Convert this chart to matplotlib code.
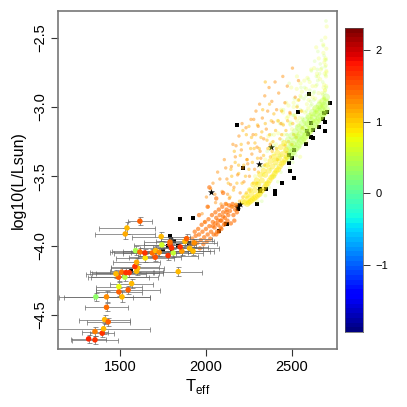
import matplotlib
matplotlib.use("Agg")
import matplotlib.pyplot as plt
import numpy as np

plt.rcParams['font.family'] = ['Liberation Sans', 'DejaVu Sans']
plt.rcParams['mathtext.fontset'] = 'custom'
plt.rcParams['mathtext.rm'] = 'Liberation Sans'

# objects with error bars
obj_teff = [1318,1355,1355,1397,1405,1411,1432,1422,1360,1422,1512,1494,1548,1494,1568,1529,1492,1477,1510,1535,1554,1597,1603,1839,1587,1597,1705,1647,1591,1616,1645,1688,1707,1728,1744,1780,1810,1791,1800,1878,1740,1791,1860,1541,1531,1616,1905,1932,1888,1925,1850]
obj_lum = [-4.673,-4.68,-4.62,-4.632,-4.60,-4.534,-4.55,-4.445,-4.37,-4.37,-4.37,-4.334,-4.32,-4.296,-4.274,-4.228,-4.228,-4.204,-4.192,-4.195,-4.195,-4.185,-4.163,-4.188,-4.151,-4.12,-4.084,-4.089,-4.036,-4.046,-4.053,-4.053,-4.036,-4.048,-3.995,-4.072,-4.053,-3.993,-4.017,-3.97,-3.935,-3.975,-4.04,-3.873,-3.916,-3.824,-4.02,-3.98,-3.95,-4.04,-4.01]
obj_err = [100,135,75,70,270,150,125,125,215,250,165,135,185,135,125,195,175,175,185,195,195,155,155,140,140,135,150,170,135,175,180,170,190,165,160,175,175,150,185,170,170,150,165,165,175,70,170,130,150,120,160]
obj_lerr = [0.03,0.03,0.03,0.03,0.04,0.03,0.03,0.03,0.03,0.04,0.04,0.03,0.03,0.03,0.03,0.03,0.03,0.03,0.03,0.03,0.03,0.03,0.03,0.03,0.03,0.03,0.03,0.03,0.03,0.03,0.03,0.03,0.03,0.03,0.03,0.03,0.03,0.03,0.03,0.03,0.03,0.03,0.03,0.04,0.04,0.03,0.03,0.03,0.03,0.03,0.03]
obj_z = [1.75,1.7,1.35,1.7,1.05,1.1,1.5,1.4,0.3,1.3,1.1,1.45,1.5,0.75,1.1,0.5,1.45,1.1,1.4,1.7,1.7,1.1,1.05,1.05,1.65,1.15,1.55,0.9,0.45,1.4,1.7,1.4,1.1,1.3,0.65,1.7,0.55,1.6,1.7,1.1,1.1,1.4,1.2,1.1,1.15,1.45,1.1,1.25,1.5,1.05,1.65]

# black objects
sq_teff = [2180,2599,2533,2719,2703,2684,2682,2692,2657,2692,2624,2589,2595,2612,2620,2612,2581,2510,2502,2481,2483,2486,2514,2440,2401,2403,2347,2314,2314,2297,2213,2188,1924,1849,2122,1791,1797,1752,1725,1835,1800,1566,2076,2118,1900,1780,1815]
sq_lum = [-3.133,-2.91,-3.034,-2.97,-3.04,-3.043,-3.087,-3.11,-3.142,-3.17,-3.166,-3.171,-3.198,-3.219,-3.222,-3.118,-3.27,-3.313,-3.369,-3.345,-3.402,-3.463,-3.511,-3.547,-3.605,-3.629,-3.595,-3.595,-3.605,-3.699,-3.443,-3.733,-3.8,-3.81,-3.845,-3.933,-3.952,-4.029,-4.048,-4.005,-4.034,-4.185,-3.897,-3.846,-3.98,-4.0,-3.97]
star_teff = [2027,2198,2188,2180,2310,2376,2314]
star_lum = [-3.617,-3.701,-3.716,-3.72,-3.414,-3.289,-3.6]

# pale cloud, upper right
pale_teff = [2702,2683,2641,2697,2612,2691,2572,2655,2698,2529,2666,2620,2693,2587,2549,2685,2630,2496,2678,2601,2467,2645,2544,2690,2510,2636,2583,2682,2700,2438,2626,2562,2673,2489,2590,2417,2642,2525,2687,2452,2606,2694,2656,2534,2701,2396,2597,2478,2648,2372,2695,2560,2411,2613,2505,2664,2688,2550,2345,2603,2439,2655,2577,2700,2540,2318,2595,2463,2647,2381,2696,2530,2286,2585,2356,2638,2420,2690,2520,2399,2576,2444,2629,2333,2684,2510,2375,2567,2291,2620,2402,2676,2699,2500,2347,2558,2425,2611,2312,2668,2692,2490,2363,2548,2448,2603,2272,2660,2686,2480,2321,2538,2392,2595,2248,2652,2680,2470,2299,2528,2408,2586,2615,2644,2674,2700]
pale_lum = [-2.42,-2.61,-2.57,-2.7,-2.73,-2.66,-2.81,-2.9,-2.78,-2.78,-2.99,-2.85,-2.88,-2.98,-2.92,-2.93,-3.01,-2.86,-3.0,-3.07,-2.97,-2.76,-3.08,-3.05,-3.0,-2.94,-2.87,-2.55,-2.95,-3.02,-3.1,-3.16,-3.08,-3.12,-2.79,-3.1,-3.03,-3.2,-2.84,-3.2,-3.15,-2.5,-2.65,-2.95,-2.75,-3.2,-2.95,-3.07,-3.14,-3.3,-3.02,-3.03,-3.3,-3.05,-3.28,-2.8,-2.68,-2.83,-3.38,-2.91,-3.35,-3.1,-3.2,-2.58,-3.19,-3.43,-3.14,-3.27,-3.0,-3.26,-2.65,-3.1,-3.5,-3.25,-3.42,-2.85,-3.19,-2.76,-3.06,-3.38,-3.04,-3.12,-2.72,-3.49,-2.86,-2.97,-3.29,-3.24,-3.57,-2.93,-3.47,-2.9,-2.85,-3.16,-3.55,-2.89,-3.39,-3.18,-3.6,-2.73,-2.88,-3.27,-3.21,-3.36,-3.04,-2.82,-3.66,-2.96,-2.94,-2.99,-3.63,-3.13,-3.34,-3.01,-3.69,-2.78,-2.99,-3.08,-3.68,-2.87,-3.27,-3.22,-3.07,-3.04,-2.96,-2.74]

# fine green points over the top of the cloud
fine_teff = [2698,2672,2651,2687,2632,2661,2693,2613,2645,2679,2596,2626,2700,2574,2657,2608,2688,2552,2634,2585,2670,2531,2619,2563,2696,2648,2512,2597,2541,2678,2628,2491,2568,2522,2662,2604,2470,2545,2690,2500,2639,2583,2449,2524,2673,2616,2479,2560,2428,2505,2650,2595,2458,2536,2407,2486,2630,2576,2436,2514,2683,2388,2464,2610,2549,2418,2493,2699,2367,2443,2590,2527,2397,2472,2665,2346,2422,2570,2505,2377,2451,2325,2401,2642,2356,2430,2553,2304,2380,2484,2335]
fine_lum = [-2.38,-2.52,-2.6,-2.63,-2.67,-2.76,-2.71,-2.74,-2.84,-2.82,-2.8,-2.9,-2.86,-2.86,-2.97,-2.96,-2.94,-2.93,-3.04,-3.03,-3.01,-2.99,-3.11,-3.09,-2.77,-2.73,-3.06,-3.17,-3.15,-2.91,-2.95,-3.13,-3.22,-3.21,-3.02,-2.88,-3.2,-3.29,-2.9,-3.27,-3.06,-2.92,-3.27,-3.35,-2.72,-2.98,-3.33,-3.08,-3.35,-3.4,-2.81,-3.12,-3.4,-3.22,-3.42,-3.44,-2.89,-3.18,-3.47,-2.94,-2.56,-3.5,-3.36,-2.99,-3.02,-3.54,-3.11,-2.66,-3.58,-3.24,-3.07,-3.14,-3.28,-3.2,-2.69,-3.64,-3.37,-2.94,-3.06,-3.45,-3.02,-3.68,-3.5,-2.78,-3.32,-3.12,-2.86,-3.55,-3.2,-2.83,-3.43]

# dense band along the lower edge
band_teff = [2700,2690,2680,2670,2660,2650,2640,2630,2620,2610,2600,2590,2580,2570,2560,2550,2540,2530,2520,2510,2500,2490,2480,2700,2685,2670,2655,2640,2625,2610,2595,2580,2565,2550,2535,2520,2505,2490,2475,2700,2680,2660,2640,2620,2600,2580,2560,2540,2520,2500,2480]
band_lum = [-3.02,-3.04,-3.05,-3.07,-3.08,-3.1,-3.11,-3.13,-3.15,-3.16,-3.18,-3.19,-3.21,-3.22,-3.24,-3.25,-3.27,-3.29,-3.3,-3.32,-3.33,-3.35,-3.37,-2.97,-2.99,-3.01,-3.03,-3.05,-3.08,-3.1,-3.12,-3.15,-3.17,-3.2,-3.22,-3.24,-3.27,-3.29,-3.31,-2.93,-2.96,-2.99,-3.01,-3.04,-3.07,-3.1,-3.12,-3.15,-3.18,-3.21,-3.24]
gold_teff = [2470,2460,2450,2440,2430,2420,2410,2400,2390,2380,2370,2360,2350,2340,2330,2320,2310,2300,2290,2280,2270,2260,2250,2240,2465,2445,2425,2405,2385,2365,2345,2325,2305,2285,2265,2245,2225,2455,2435,2415,2395,2375,2355,2335,2315,2295,2275,2255,2235,2215]
gold_lum = [-3.36,-3.38,-3.4,-3.41,-3.43,-3.45,-3.46,-3.48,-3.5,-3.51,-3.53,-3.55,-3.56,-3.58,-3.6,-3.61,-3.63,-3.64,-3.65,-3.66,-3.67,-3.68,-3.69,-3.7,-3.31,-3.34,-3.37,-3.4,-3.43,-3.46,-3.49,-3.53,-3.56,-3.6,-3.63,-3.66,-3.69,-3.26,-3.29,-3.33,-3.36,-3.39,-3.42,-3.46,-3.49,-3.53,-3.56,-3.6,-3.64,-3.68]

# scattered orange points above the band
orange_teff = [2540,2555,2520,2530,2505,2490,2510,2475,2465,2480,2450,2440,2460,2420,2430,2410,2395,2405,2380,2390,2370,2360,2375,2345,2355,2335,2325,2340,2310,2320,2300,2290,2305,2280,2270,2295,2260,2250,2275,2240,2230,2255,2220,2210,2235,2200,2190,2215,2180,2170,2195,2160,2150,2175,2140,2130,2155,2120,2345,2370,2300,2285,2330,2250,2265,2235,2205,2190,2165,2145,2215,2385,2415,2440,2470,2500,2525,2560]
orange_lum = [-2.95,-3.03,-3.08,-3.0,-3.12,-3.05,-3.2,-3.1,-3.17,-3.25,-3.13,-3.2,-3.28,-3.1,-3.23,-3.3,-3.05,-3.17,-3.1,-3.25,-3.2,-3.3,-3.36,-3.12,-3.24,-3.35,-3.18,-3.42,-3.3,-3.22,-3.37,-3.2,-3.47,-3.3,-3.4,-3.55,-3.3,-3.45,-3.55,-3.38,-3.5,-3.6,-3.42,-3.55,-3.62,-3.35,-3.48,-3.65,-3.55,-3.4,-3.68,-3.6,-3.5,-3.7,-3.65,-3.55,-3.72,-3.7,-2.82,-2.98,-3.13,-3.26,-3.02,-3.14,-3.22,-3.2,-3.27,-3.42,-3.32,-3.45,-3.17,-3.32,-3.38,-3.03,-3.33,-3.27,-3.22,-3.15]

# pink points on the hot side of the clump, scattered upward
pink_teff = [2013,2041,2068,2094,2107,2122,2136,2148,2157,2163,2171,2184,2192,2199,2206,2214,2221,2233,2238,2246,2253,2262,2267,2274,2283,2291,2297,2304,2312,2319,2328,2336,2342,2351,2359,2367,2374,2383,2391,2402,2411,2423,2436,2447,2459,2473,2488,2503,2519,2538,1978,2003,2028,2056,2081,2115,2143,1992,2052,2088,2126,2175,2210,2243,2278,2315]
pink_lum = [-3.72,-3.55,-3.47,-3.61,-3.38,-3.52,-3.66,-3.43,-3.27,-3.58,-3.36,-3.49,-3.21,-3.62,-3.31,-3.44,-3.54,-3.15,-3.38,-3.26,-3.5,-3.09,-3.34,-3.2,-3.45,-3.03,-3.29,-3.14,-2.98,-3.37,-3.08,-3.23,-2.92,-3.16,-3.03,-2.86,-3.27,-2.96,-3.11,-2.82,-3.02,-2.9,-3.12,-2.78,-2.97,-2.85,-3.04,-2.72,-2.93,-2.81,-3.77,-3.65,-3.59,-3.69,-3.52,-3.44,-3.56,-3.83,-3.63,-3.7,-3.63,-3.28,-3.12,-3.41,-3.09,-3.32]

# red and orange clump at the cool end of the cloud
red_teff = [2180,2170,2160,2150,2140,2130,2120,2110,2100,2090,2080,2070,2060,2050,2040,2030,2020,2010,2000,1990,1980,1970,1960,1950,1940,1930,1920,1910,2175,2155,2135,2115,2095,2075,2055,2035,2015,1995,1975,1955,1935,2165,2145,2125,2105,2085,2065,2045,2025,2005,1985,1965,2120,2100,2085,2070,2055,2040,2110,2090,2075,2060,2010,1960,2060,2020,2100]
red_lum = [-3.76,-3.74,-3.78,-3.72,-3.75,-3.78,-3.74,-3.8,-3.76,-3.82,-3.78,-3.85,-3.8,-3.87,-3.83,-3.9,-3.86,-3.92,-3.88,-3.94,-3.9,-3.96,-3.92,-3.98,-3.93,-3.99,-3.95,-4.0,-3.71,-3.7,-3.71,-3.7,-3.72,-3.74,-3.76,-3.78,-3.81,-3.83,-3.85,-3.88,-3.9,-3.82,-3.84,-3.82,-3.85,-3.87,-3.9,-3.92,-3.95,-3.97,-3.99,-4.02,-3.76,-3.79,-3.82,-3.82,-3.84,-3.86,-3.84,-3.88,-3.9,-3.92,-3.72,-3.78,-3.66,-3.58,-3.62]

xticks = [1500, 2000, 2500]
yticks = [-2.5, -3.0, -3.5, -4.0, -4.5]
ylabels = ['\u22122.5', '\u22123.0', '\u22123.5', '\u22124.0', '\u22124.5']
cticks = [-1, 0, 1, 2]
clabels = ['\u22121', '0', '1', '2']

zmin, zmax = -1.934, 2.307
cmap = plt.get_cmap('jet', 64)
W = 407.0

fig = plt.figure(figsize=(4.07, 4.07), dpi=100)
ax = fig.add_axes([58/W, 1-349/W, 279/W, 338/W])

ax.scatter(sq_teff, sq_lum, marker='s', s=7, c='black', linewidths=0, zorder=1)
ax.scatter(star_teff, star_lum, marker='*', s=28, c='black', linewidths=0, zorder=1)

def cloud(teff, lum, z, size, alpha):
    n = min(len(teff), len(lum))
    ax.scatter(teff[:n], lum[:n], c=[z]*n, cmap=cmap, vmin=zmin, vmax=zmax,
               s=size, alpha=alpha, linewidths=0, zorder=2)

cloud(pale_teff, pale_lum, 0.75, 9, 0.2)
cloud(fine_teff, fine_lum, 0.5, 7, 0.2)
cloud(orange_teff, orange_lum, 1.05, 6, 0.45)
cloud(pink_teff, pink_lum, 1.3, 6, 0.45)
cloud(band_teff, band_lum, 0.48, 28, 0.33)
cloud(gold_teff, gold_lum, 0.88, 18, 0.42)
cloud(red_teff, red_lum, 1.4, 10, 0.62)

ax.errorbar(obj_teff, obj_lum, xerr=obj_err, yerr=obj_lerr, fmt='none', ecolor='#666666',
            elinewidth=0.7, capsize=1.8, capthick=0.7, alpha=0.7, zorder=3)
ax.scatter(obj_teff, obj_lum, c=obj_z, cmap=cmap, vmin=zmin, vmax=zmax, s=16,
           linewidths=0, zorder=4)

ax.set_xlim(1140, 2762)
ax.set_ylim(-4.746, -2.308)
ax.set_xticks(xticks)
ax.set_yticks(yticks)
ax.set_yticklabels(ylabels, rotation=90, va='center')
ax.tick_params(labelsize=10.5, length=5, width=0.8, color='#333333', pad=3)
for s in ax.spines.values():
    s.set_color('#777777')
    s.set_linewidth(1.2)
ax.set_xlabel(r'T$_{\mathrm{eff}}$', fontsize=12, labelpad=2)
ax.set_ylabel('log10(L/Lsun)', fontsize=11.5, labelpad=5)

cax = fig.add_axes([345/W, 1-332/W, 18/W, 304/W])
levels = np.linspace(zmin, zmax, 65)
cax.pcolormesh([0, 1], levels, levels[:-1, None], cmap=cmap, vmin=zmin, vmax=zmax)
cax.set_xticks([])
cax.yaxis.tick_right()
cax.set_yticks(cticks)
cax.set_yticklabels(clabels)
cax.tick_params(labelsize=8, length=5, width=0.7, color='#333333', pad=4)
for s in cax.spines.values():
    s.set_color('#555555')
    s.set_linewidth(0.5)

fig.savefig('out.png', dpi=100)
